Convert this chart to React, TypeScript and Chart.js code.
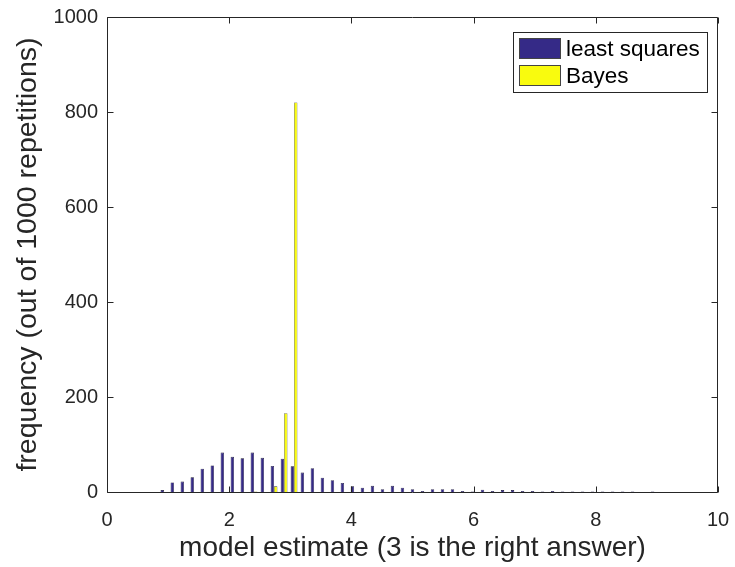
import React, { useEffect, useRef } from "react";
import { Chart, registerables } from "chart.js";

Chart.register(...registerables);

// histogram bin centres (model estimate)
const binCenters = [
  0.932, 1.096, 1.26, 1.423, 1.587, 1.751, 1.915, 2.079, 2.242, 2.406,
  2.57, 2.734, 2.898, 3.061, 3.225, 3.389, 3.553, 3.717, 3.88, 4.044,
  4.208, 4.372, 4.536, 4.699, 4.863, 5.027, 5.191, 5.355, 5.518, 5.682,
  5.846, 6.01, 6.173, 6.337, 6.501, 6.665, 6.829, 6.992, 7.156, 7.32,
  7.484, 7.648, 7.811, 7.975, 8.139, 8.303, 8.467, 8.63, 8.794, 8.958,
];

const leastSquares = [
  4, 20, 22, 31, 49, 56, 83, 74, 71, 83,
  72, 55, 70, 54, 41, 50, 30, 25, 19, 12,
  9, 13, 6, 13, 9, 6, 2, 6, 6, 6,
  2, 1, 5, 2, 4, 4, 2, 2, 1, 2,
  1, 1, 1, 1, 1, 1, 1, 1, 0, 1,
];

const bayes = [
  0, 0, 0, 0, 0, 0, 0, 0, 0, 1,
  0, 12, 166, 820, 0, 0, 0, 0, 0, 0,
  0, 0, 0, 0, 0, 0, 0, 0, 0, 0,
  0, 0, 0, 0, 0, 0, 0, 0, 0, 0,
  0, 0, 0, 0, 0, 0, 0, 0, 0, 0,
];

const seriesLabels = ["least squares", "Bayes"];
const seriesColors = ["#352a87", "#f9fb0e"];
const seriesEdges = ["#15122e", "#3a3a30"];
const xTicks = [0, 2, 4, 6, 8, 10];
const yTicks = [0, 200, 400, 600, 800, 1000];
const xTitle = "model estimate (3 is the right answer)";
const yTitle = "frequency (out of 1000 repetitions)";

const FONT = "'Liberation Sans', Arial, Helvetica, sans-serif";
const INK = "#262626";

const framePlugin = {
  id: "matlabFrame",
  afterDatasetsDraw(chart: any) {
    const { ctx, chartArea: a, scales } = chart;
    const L = a.left + 0.5;
    const R = a.right - 0.5;
    const T = a.top + 0.5;
    const B = a.bottom + 0.5;
    ctx.save();
    ctx.strokeStyle = INK;
    ctx.lineWidth = 1;
    ctx.beginPath();
    ctx.rect(L, T, R - L, B - T);
    const tl = 6;
    for (const v of xTicks) {
      const px = Math.round(scales.x.getPixelForValue(v)) + 0.5;
      ctx.moveTo(px, B);
      ctx.lineTo(px, B - tl);
      ctx.moveTo(px, T);
      ctx.lineTo(px, T + tl);
    }
    for (const v of yTicks) {
      const py = Math.round(scales.y.getPixelForValue(v)) + 0.5;
      ctx.moveTo(L, py);
      ctx.lineTo(L + tl, py);
      ctx.moveTo(R, py);
      ctx.lineTo(R - tl, py);
    }
    ctx.stroke();

    // legend (top-right, inside the axes)
    const fontPx = 22.5;
    ctx.font = `${fontPx}px ${FONT}`;
    const labels = chart.data.datasets.map((d: any) => d.label);
    const textW = Math.max(...labels.map((t: string) => ctx.measureText(t).width));
    const padL = 6;
    const padR = 7;
    const padV = 6;
    const swW = 42;
    const swH = 21;
    const gap = 5;
    const rowH = 27.4;
    const boxW = Math.round(padL + swW + gap + textW + padR);
    const boxH = Math.round(padV + rowH * (labels.length - 1) + swH + padV);
    const boxR = a.right - 11;
    const boxL = boxR - boxW;
    const boxT = a.top + 15;
    ctx.fillStyle = "#ffffff";
    ctx.fillRect(boxL, boxT, boxW, boxH);
    ctx.strokeStyle = INK;
    ctx.strokeRect(boxL + 0.5, boxT + 0.5, boxW, boxH);
    chart.data.datasets.forEach((d: any, i: number) => {
      const y = Math.round(boxT + padV + i * rowH);
      ctx.fillStyle = d.backgroundColor;
      ctx.fillRect(boxL + padL, y, swW, swH);
      ctx.strokeStyle = "#444";
      ctx.strokeRect(boxL + padL + 0.5, y + 0.5, swW - 1, swH - 1);
      ctx.fillStyle = "#000";
      ctx.textBaseline = "middle";
      ctx.textAlign = "left";
      ctx.fillText(d.label, boxL + padL + swW + gap, y + swH / 2 + 1);
    });
    ctx.restore();
  },
};

export default function App() {
  const ref = useRef<HTMLCanvasElement | null>(null);

  useEffect(() => {
    if (!ref.current) return;
    const series = [leastSquares, bayes];
    const chart = new Chart(ref.current, {
      type: "bar",
      data: {
        datasets: series.map((vals, k) => ({
          label: seriesLabels[k],
          data: binCenters.map((x, i) => ({ x, y: vals[i] })),
          backgroundColor: seriesColors[k],
          borderColor: seriesEdges[k],
          borderWidth: 0.6,
          categoryPercentage: 0.68,
          barPercentage: 1,
        })),
      },
      options: {
        responsive: false,
        animation: false,
        devicePixelRatio: 1,
        layout: { padding: { left: 0, right: 17, top: 17, bottom: 0 } },
        plugins: {
          legend: { display: false },
          tooltip: { enabled: false },
        },
        scales: {
          x: {
            type: "linear",
            min: 0,
            max: 10,
            offset: false,
            afterBuildTicks: (s: any) => {
              s.ticks = xTicks.map((v) => ({ value: v }));
            },
            afterFit: (s: any) => {
              s.height = 75;
              s.paddingLeft = 0;
              s.paddingRight = 0;
            },
            grid: { display: false, drawTicks: false },
            border: { display: false },
            ticks: {
              padding: 16,
              color: INK,
              font: { family: FONT, size: 20 },
              maxRotation: 0,
              callback: (v: any) => String(v),
            },
            title: {
              display: true,
              text: xTitle,
              color: INK,
              font: { family: FONT, size: 28 },
              padding: { top: 0, bottom: 2 },
            },
          },
          y: {
            min: 0,
            max: 1000,
            afterBuildTicks: (s: any) => {
              s.ticks = yTicks.map((v) => ({ value: v }));
            },
            afterFit: (s: any) => {
              s.width = 107;
              s.paddingTop = 0;
              s.paddingBottom = 0;
            },
            grid: { display: false, drawTicks: false },
            border: { display: false },
            ticks: {
              padding: 9,
              color: INK,
              font: { family: FONT, size: 20 },
              callback: (v: any) => String(v),
            },
            title: {
              display: true,
              text: yTitle,
              color: INK,
              font: { family: FONT, size: 28.5 },
              padding: { top: 11, bottom: 0 },
            },
          },
        },
      },
      plugins: [framePlugin],
    });
    return () => chart.destroy();
  }, []);

  return (
    <div style={{ position: "absolute", left: 0, top: 0, width: 735, height: 567, background: "#fff" }}>
      <canvas ref={ref} width={735} height={567} />
    </div>
  );
}
